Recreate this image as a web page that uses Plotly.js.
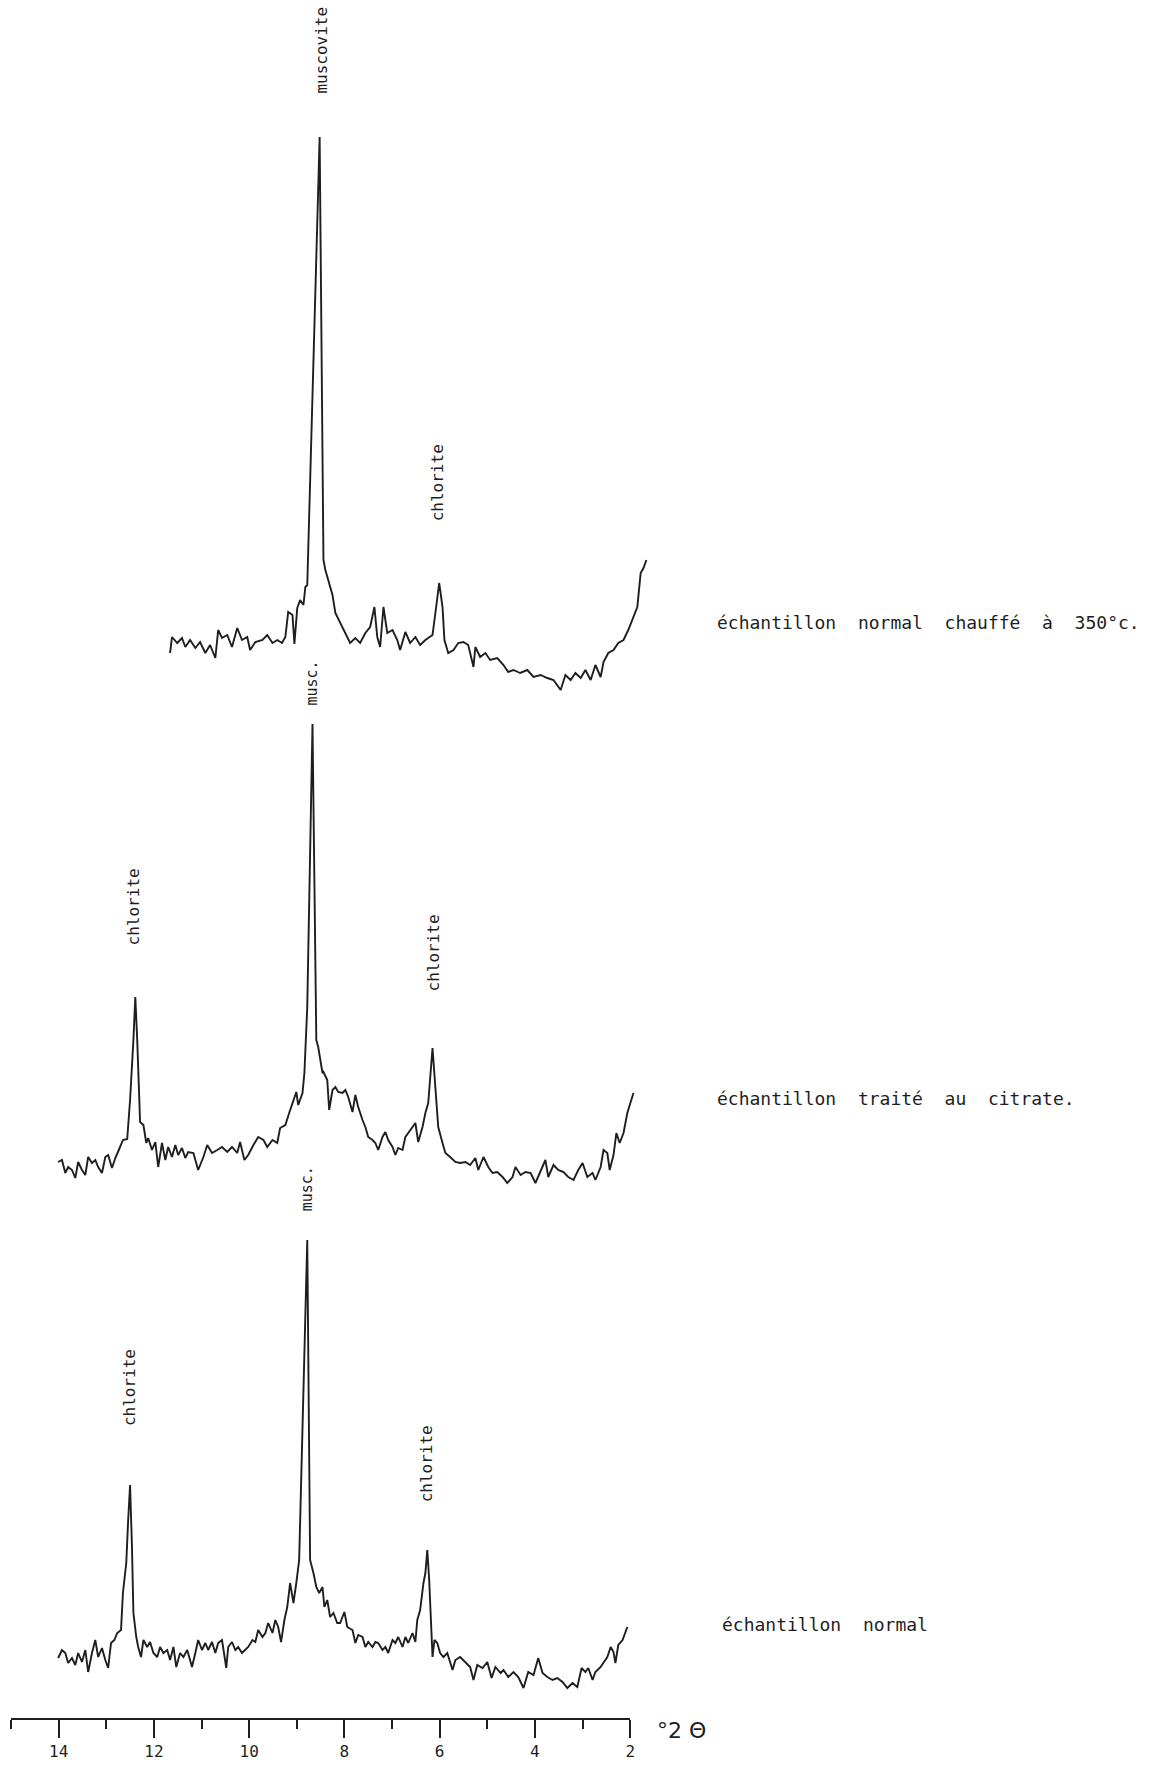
<!DOCTYPE html>
<html><head><meta charset="utf-8">
<script src="https://cdn.plot.ly/plotly-3.0.1.min.js"></script>
<style>html,body{margin:0;padding:0;background:#fff}</style>
</head><body>
<div id="chart" style="width:1154px;height:1766px"></div>
<script>
// ---- data: degrees 2-theta and intensity (arbitrary units) ----
const topTheta = [11.66,11.62,11.51,11.41,11.34,11.24,11.13,11.03,10.92,10.82,10.71,10.65,10.57,10.46,10.36,10.25,10.15,10.04,9.98,9.87,9.72,9.62,9.51,9.41,9.31,9.24,9.18,9.09,9.05,8.99,8.93,8.86,8.82,8.78,8.52,8.44,8.40,8.25,8.19,8.09,7.98,7.88,7.77,7.67,7.56,7.46,7.37,7.31,7.25,7.18,7.10,6.99,6.89,6.83,6.72,6.62,6.51,6.41,6.30,6.15,6.09,6.01,5.94,5.90,5.82,5.71,5.61,5.50,5.40,5.29,5.25,5.15,5.04,4.94,4.79,4.66,4.56,4.45,4.31,4.16,4.03,3.88,3.74,3.61,3.46,3.36,3.25,3.15,3.04,2.94,2.83,2.73,2.62,2.56,2.46,2.35,2.25,2.14,2.04,1.93,1.85,1.78,1.72,1.66];
const topIntensity = [47,63,57,62,53,60,52,58,47,55,42,70,62,65,53,72,60,63,50,58,60,65,57,60,57,63,88,85,56,92,100,95,113,115,563,140,130,105,87,77,67,57,62,57,67,73,93,63,53,93,67,70,60,50,68,57,63,55,60,65,87,117,93,60,47,50,57,58,55,33,53,43,47,40,42,35,28,30,27,30,23,25,22,20,10,25,20,27,22,30,20,35,23,38,47,50,57,60,70,83,93,127,132,140];

const midTheta = [14.01,13.93,13.86,13.80,13.72,13.65,13.59,13.51,13.44,13.38,13.30,13.23,13.17,13.09,13.02,12.96,12.88,12.81,12.71,12.65,12.56,12.50,12.43,12.39,12.35,12.31,12.29,12.22,12.16,12.12,12.04,11.97,11.91,11.83,11.76,11.70,11.62,11.55,11.49,11.41,11.34,11.28,11.17,11.07,10.96,10.88,10.78,10.67,10.57,10.46,10.36,10.25,10.19,10.10,10.02,9.91,9.81,9.70,9.62,9.51,9.41,9.35,9.24,9.16,9.07,9.01,8.97,8.88,8.84,8.78,8.67,8.59,8.55,8.46,8.44,8.36,8.32,8.25,8.19,8.13,8.04,7.98,7.92,7.83,7.77,7.71,7.62,7.56,7.50,7.41,7.35,7.29,7.20,7.14,7.08,6.99,6.93,6.87,6.78,6.72,6.66,6.57,6.51,6.45,6.36,6.30,6.24,6.15,6.09,6.03,5.94,5.88,5.78,5.67,5.57,5.46,5.36,5.25,5.19,5.08,4.98,4.89,4.79,4.68,4.58,4.47,4.41,4.30,4.20,4.09,3.99,3.88,3.78,3.72,3.61,3.51,3.40,3.30,3.19,3.09,3.00,2.90,2.79,2.73,2.62,2.56,2.48,2.43,2.35,2.29,2.22,2.14,2.06,1.99,1.93];
const midIntensity = [28,30,17,23,20,12,28,20,15,33,27,30,23,17,33,35,22,32,43,50,51,90,150,193,150,93,68,65,47,52,40,48,23,47,30,43,33,45,35,42,32,38,37,20,33,45,37,40,43,38,43,37,48,30,35,45,53,50,43,50,47,62,65,77,90,98,85,97,117,183,466,150,143,117,118,110,80,100,103,98,97,100,93,78,95,83,70,63,53,50,47,40,53,58,50,43,35,42,40,53,57,63,67,48,63,77,87,142,97,63,47,37,33,28,27,28,25,32,20,33,23,17,18,13,7,13,23,15,18,17,7,20,30,13,25,20,18,13,10,20,27,13,17,10,23,40,37,20,35,57,47,57,77,88,97];

const botTheta = [14.01,13.93,13.86,13.80,13.72,13.65,13.59,13.51,13.44,13.38,13.30,13.23,13.17,13.09,13.02,12.96,12.90,12.83,12.77,12.69,12.65,12.58,12.54,12.50,12.46,12.43,12.37,12.33,12.27,12.22,12.14,12.08,12.01,11.93,11.87,11.80,11.72,11.66,11.59,11.53,11.45,11.38,11.30,11.20,11.13,11.07,10.99,10.92,10.86,10.78,10.71,10.65,10.57,10.48,10.44,10.36,10.29,10.23,10.15,10.08,10.02,9.93,9.87,9.81,9.72,9.66,9.60,9.51,9.45,9.39,9.33,9.26,9.20,9.14,9.07,9.01,8.95,8.78,8.72,8.65,8.59,8.53,8.46,8.42,8.36,8.30,8.23,8.15,8.09,8.00,7.94,7.83,7.77,7.71,7.62,7.56,7.50,7.41,7.35,7.29,7.20,7.14,7.08,6.99,6.93,6.87,6.78,6.72,6.66,6.57,6.51,6.47,6.41,6.34,6.30,6.26,6.22,6.15,6.11,6.05,5.99,5.92,5.84,5.73,5.67,5.57,5.46,5.36,5.29,5.21,5.10,5.00,4.91,4.83,4.72,4.66,4.56,4.45,4.35,4.24,4.14,4.03,3.93,3.84,3.74,3.63,3.53,3.42,3.32,3.21,3.11,3.02,2.94,2.88,2.79,2.73,2.62,2.56,2.48,2.41,2.35,2.31,2.25,2.16,2.10,2.06];
const botIntensity = [42,50,47,37,42,35,47,38,50,28,47,60,43,52,40,32,57,60,67,70,107,137,180,215,153,87,63,53,43,60,53,58,47,43,53,47,50,40,53,33,47,43,50,33,47,60,50,57,50,58,47,57,60,32,53,58,50,53,47,50,53,60,58,70,63,67,77,67,80,73,58,80,93,117,97,117,140,460,140,127,113,107,113,93,100,83,87,77,77,88,73,70,57,65,63,53,58,53,58,57,50,53,47,60,57,63,53,63,57,67,58,80,90,117,127,150,120,43,60,57,47,43,47,30,40,43,38,33,20,35,32,38,22,33,27,30,23,28,23,12,28,25,42,27,23,20,22,18,12,17,13,32,28,32,20,28,33,37,43,53,48,37,55,60,68,73];

const majorTicks = [14, 12, 10, 8, 6, 4, 2];
const minorTicks = [15, 13, 11, 9, 7, 5, 3];
const sampleLabels = ["échantillon normal chauffé à 350°c.", "échantillon traité au citrate.", "échantillon normal"];
const axisUnit = "°2 Θ";

// vertical stacking offsets (layout, not data)
const offTop = 1018, offMid = 528, offBot = 18;

const ink = '#1e1e1e';
function shifted(arr, off){ return arr.map(v => v + off); }
function trace(x, y, off){
  return {x: x, y: shifted(y, off), type: 'scatter', mode: 'lines',
          line: {color: ink, width: 1.9}, hoverinfo: 'skip', showlegend: false,
          xaxis: 'x', yaxis: 'y'};
}
const data = [
  trace(topTheta, topIntensity, offTop),
  trace(midTheta, midIntensity, offMid),
  trace(botTheta, botIntensity, offBot),
  {x: [], y: [], type: 'scatter', mode: 'lines', xaxis: 'x2', yaxis: 'y', showlegend: false, hoverinfo: 'skip'}
];

const mono = 'DejaVu Sans Mono, Liberation Mono, monospace';
function peakLabel(text, x, y, size){
  return {text: text, x: x, y: y, xref: 'x', yref: 'y', showarrow: false, textangle: -90,
          xanchor: 'center', yanchor: 'middle', font: {family: mono, size: size || 16, color: ink}};
}
function sideLabel(text, x, y){
  return {text: text.replace(/ /g, '\u00a0\u00a0'), x: x, y: y, xref: 'paper', yref: 'y', showarrow: false,
          xanchor: 'left', yanchor: 'middle', font: {family: mono, size: 18, color: ink}};
}
const annotations = [
  peakLabel('muscovite', 8.50, 1668),
  peakLabel('chlorite', 6.05, 1235),
  peakLabel('musc.', 8.69, 1035, 15),
  peakLabel('chlorite', 12.43, 811),
  peakLabel('chlorite', 6.13, 765),
  peakLabel('musc.', 8.78, 529, 15),
  peakLabel('chlorite', 12.52, 330),
  peakLabel('chlorite', 6.28, 254),
  sideLabel(sampleLabels[0], 1.095, 1096),
  sideLabel(sampleLabels[1], 1.095, 620),
  sideLabel(sampleLabels[2], 1.103, 94),
  {text: axisUnit, x: 1.002, y: -0.007, xref: 'paper', yref: 'paper', showarrow: false,
   xanchor: 'left', yanchor: 'middle', font: {family: 'DejaVu Sans, sans-serif', size: 22, color: ink}}
];

const layout = {
  width: 1154, height: 1766,
  margin: {l: 11, r: 500, t: 0, b: 48, pad: 0},
  paper_bgcolor: '#ffffff', plot_bgcolor: 'rgba(0,0,0,0)',
  showlegend: false,
  xaxis: {range: [15, 1.5], domain: [0, 1], visible: false, fixedrange: true},
  xaxis2: {range: [15, 2], domain: [0, 13 / 13.5], anchor: 'y', showline: true, linecolor: ink, linewidth: 2,
           ticks: 'outside', tickmode: 'array', tickvals: majorTicks, ticktext: majorTicks.map(String),
           ticklen: 18, tickwidth: 2, tickcolor: ink, showgrid: false, zeroline: false, fixedrange: true,
           tickfont: {family: mono, size: 16, color: ink},
           minor: {tickmode: 'array', tickvals: minorTicks, ticks: 'outside', ticklen: 9, tickwidth: 2, tickcolor: ink, showgrid: false}},
  yaxis: {range: [0, 1718], visible: false, fixedrange: true},
  annotations: annotations
};

Plotly.newPlot('chart', data, layout, {staticPlot: true, displayModeBar: false});
</script>
</body></html>
